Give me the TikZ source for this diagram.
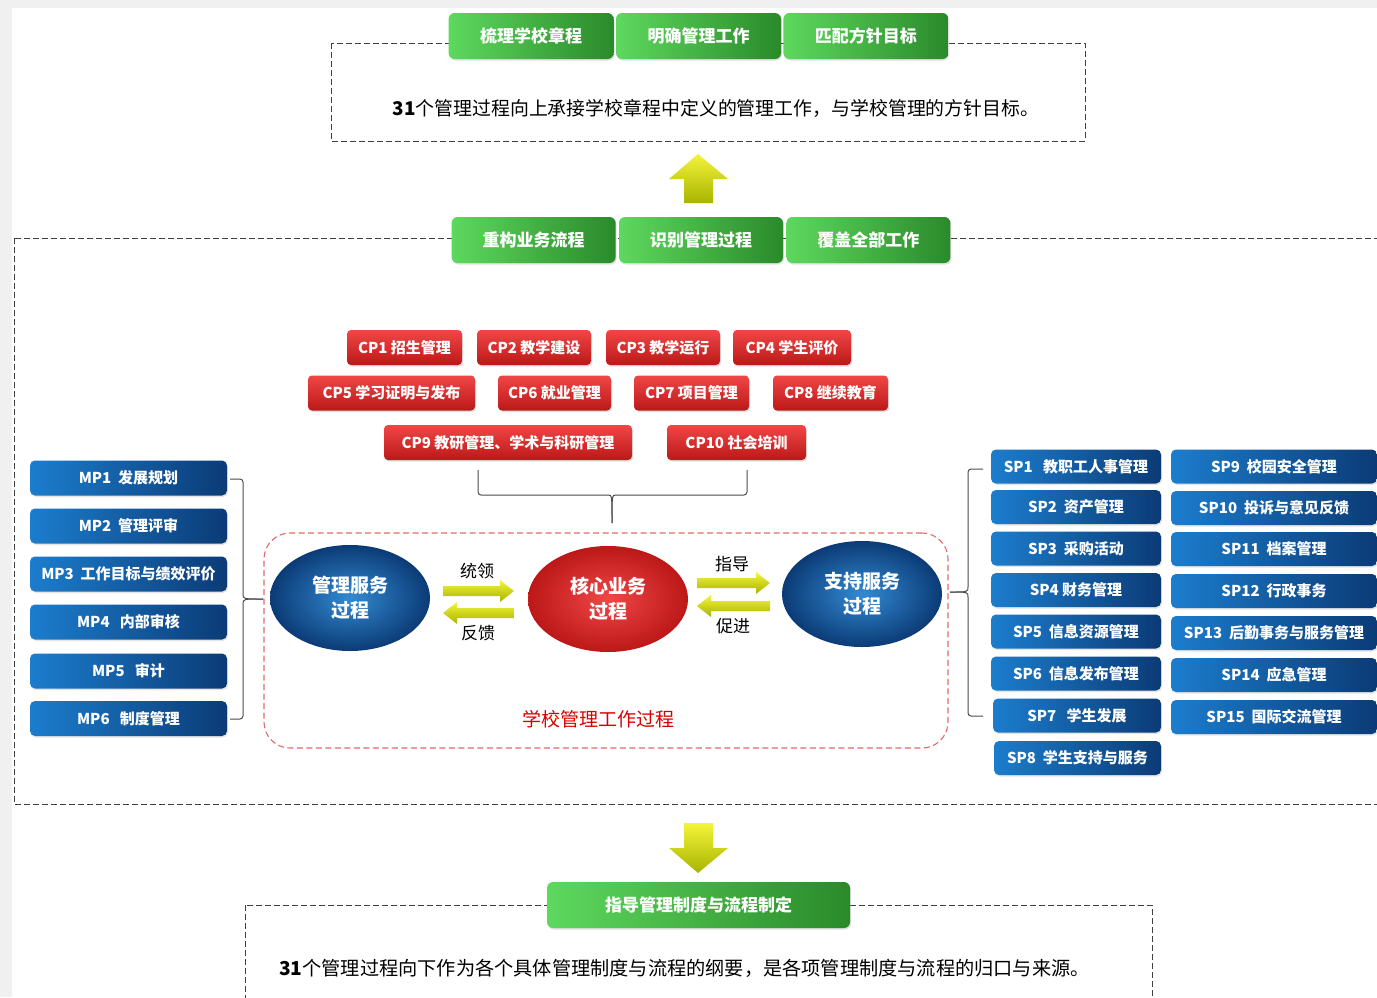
\documentclass[tikz,border=0pt]{standalone}
\usepackage{fontspec}
\setmainfont{Noto Sans CJK SC}
\usetikzlibrary{positioning,shapes.geometric,shadows}
\definecolor{gLight}{HTML}{5ED85E}
\definecolor{gDark}{HTML}{2A8A2A}
\definecolor{bLight}{HTML}{1C7DCD}
\definecolor{bDark}{HTML}{0B3B76}
\definecolor{rTop}{HTML}{F04646}
\definecolor{rBot}{HTML}{BC1818}
\definecolor{yTop}{HTML}{F4F43A}
\definecolor{yBot}{HTML}{A8B400}
\definecolor{dashRed}{HTML}{E26A6A}
\definecolor{bgGray}{HTML}{F0F0F0}
\begin{document}
\begin{tikzpicture}[x=1pt, y=-1pt,
  gbox/.style = {rounded corners=6, left color=gLight, right color=gDark, text=white, minimum height=46, inner sep=0, font=\bfseries\fontsize{17}{17}\selectfont, drop shadow={opacity=0.25, shadow xshift=1pt, shadow yshift=-1.5pt}},
  cbox/.style = {rounded corners=4, top color=rTop, bottom color=rBot, text=white, minimum height=35, inner sep=0, font=\bfseries\fontsize{15}{15}\selectfont, drop shadow={opacity=0.25, shadow xshift=1pt, shadow yshift=-1.5pt}},
  bbox/.style = {rounded corners=5, left color=bLight, right color=bDark, text=white, minimum height=34, inner sep=0, font=\bfseries\fontsize{15}{15}\selectfont, drop shadow={opacity=0.2, shadow xshift=1pt, shadow yshift=-1.5pt}},
  proc/.style = {ellipse, minimum width=160, minimum height=106, inner sep=0, text=white, align=center, font=\bfseries\fontsize{19}{25}\selectfont, shading=radial},
  dashbox/.style = {draw=black!75, line width=0.9, dash pattern=on 6pt off 3pt},
  yarrow/.style = {top color=yTop, bottom color=yBot},
  bracket/.style = {draw=black!70, line width=1, rounded corners=3}
]
\useasboundingbox (0,0) rectangle (1377,997);
\clip (0,0) rectangle (1377,997);
\fill[bgGray] (0,0) rectangle (1377,997);
\fill[white] (12,8) rectangle (1377,997);

% upper frame
\draw[dashbox] (331,43) rectangle (1085,141);
\node[gbox, minimum width=165] (aim2) at (698.5,36) {明确管理工作};
\node[gbox, minimum width=165, left=2pt of aim2] (aim1) {梳理学校章程};
\node[gbox, minimum width=165, right=2pt of aim2] (aim3) {匹配方针目标};
\node[font=\fontsize{18.9}{20}\selectfont] (upText) at (716,108) {{\bfseries 31}个管理过程向上承接学校章程中定义的管理工作，与学校管理的方针目标。};

% up arrow
\shade[yarrow] (698,154) -- (728,179) -- (713,179) -- (713,203) -- (684,203) -- (684,179) -- (669,179) -- cycle;

% middle frame
\draw[dashbox] (14,238) rectangle (1400,804);
\node[gbox, minimum width=164] (flow2) at (701,240) {识别管理过程};
\node[gbox, minimum width=164, left=3pt of flow2] (flow1) {重构业务流程};
\node[gbox, minimum width=164, right=3pt of flow2] (flow3) {覆盖全部工作};

% core processes
\node[cbox, minimum width=115] (cp1) at (404.5,347.5) {CP1 招生管理};
\node[cbox, minimum width=114] (cp2) at (534,347.5) {CP2 教学建设};
\node[cbox, minimum width=114] (cp3) at (663,347.5) {CP3 教学运行};
\node[cbox, minimum width=118] (cp4) at (792,347.5) {CP4 学生评价};
\node[cbox, minimum width=167] (cp5) at (391.5,393) {CP5 学习证明与发布};
\node[cbox, minimum width=113] (cp6) at (554.5,393) {CP6 就业管理};
\node[cbox, minimum width=115] (cp7) at (691.5,393) {CP7 项目管理};
\node[cbox, minimum width=115] (cp8) at (830.5,393) {CP8 继续教育};
\node[cbox, minimum width=248] (cp9) at (508,442.5) {CP9 教研管理、学术与科研管理};
\node[cbox, minimum width=139] (cp10) at (736.5,442.5) {CP10 社会培训};

\coordinate (cpL) at (478,470);
\coordinate (cpR) at (747,470);
\coordinate (cpTip) at (612,523);
\draw[bracket] (cpL) |- (605,495) .. controls (612,495) .. (cpTip);
\draw[bracket] (cpR) |- (619,495) .. controls (612,495) .. (cpTip);

% school work box
\node[draw=dashRed, line width=1.1, dash pattern=on 6pt off 3.5pt, rounded corners=26, minimum width=684, minimum height=215] (workBox) at (606,640.5) {};
\node[text=red!85!black, font=\fontsize{19}{19}\selectfont] (workLbl) at (598,719) {学校管理工作过程};

\node[proc, inner color=bLight!90!white, outer color=bDark] (mgmt) at (350,598) {管理服务\\过程};
\node[proc, inner color=rTop, outer color=rBot] (core) at (608,599) {核心业务\\过程};
\node[proc, inner color=bLight!90!white, outer color=bDark] (supp) at (862,594) {支持服务\\过程};

\shade[yarrow] (443,586) -- (500,586) -- (500,580) -- (514,591) -- (500,602) -- (500,596) -- (443,596) -- cycle;
\shade[yarrow] (514,608) -- (457,608) -- (457,602) -- (443,613) -- (457,624) -- (457,618) -- (514,618) -- cycle;
\shade[yarrow] (697,578) -- (756,578) -- (756,572) -- (770,583) -- (756,594) -- (756,588) -- (697,588) -- cycle;
\shade[yarrow] (770,601) -- (711,601) -- (711,595) -- (697,606) -- (711,617) -- (711,611) -- (770,611) -- cycle;
\node[font=\fontsize{17}{17}\selectfont] (lead) at (477,571) {统领};
\node[font=\fontsize{17}{17}\selectfont] (feed) at (478,633) {反馈};
\node[font=\fontsize{17}{17}\selectfont] (guide) at (732,564) {指导};
\node[font=\fontsize{17}{17}\selectfont] (push) at (733,626) {促进};

% management processes
\node[bbox, minimum width=197, minimum height=35] (mp1) at (128.5,478) {MP1\ \ 发展规划};
\node[bbox, minimum width=197, minimum height=35] (mp2) at (128.5,526) {MP2\ \ 管理评审};
\node[bbox, minimum width=197, minimum height=35] (mp3) at (128.5,574) {MP3\ \ 工作目标与绩效评价};
\node[bbox, minimum width=197, minimum height=35] (mp4) at (128.5,622) {MP4\ \ \ 内部审核};
\node[bbox, minimum width=197, minimum height=35] (mp5) at (128.5,671) {MP5\ \ \ 审计};
\node[bbox, minimum width=197, minimum height=35] (mp6) at (128.5,718.5) {MP6\ \ \ 制度管理};

\coordinate (mpTop) at (230,479);
\coordinate (mpBot) at (230,719);
\coordinate (mpTip) at (263,599);
\draw[bracket] (mpTop) -| (243,591) .. controls (243,599) .. (mpTip);
\draw[bracket] (mpBot) -| (243,607) .. controls (243,599) .. (mpTip);

% support processes
\node[bbox, minimum width=170] (sp1) at (1076,466.5) {SP1\ \ \ 教职工人事管理};
\node[bbox, minimum width=170] (sp2) at (1076,507) {SP2\ \ 资产管理};
\node[bbox, minimum width=170] (sp3) at (1076,548.5) {SP3\ \ 采购活动};
\node[bbox, minimum width=170] (sp4) at (1076,590) {SP4 财务管理};
\node[bbox, minimum width=170] (sp5) at (1076,631.5) {SP5\ \ 信息资源管理};
\node[bbox, minimum width=170] (sp6) at (1076,673.5) {SP6\ \ 信息发布管理};
\node[bbox, minimum width=168] (sp7) at (1077,715.5) {SP7\ \ \ 学生发展};
\node[bbox, minimum width=167] (sp8) at (1077.5,758) {SP8\ \ 学生支持与服务};
\node[bbox, minimum width=206] (sp9) at (1274,466.5) {SP9\ \ 校园安全管理};
\node[bbox, minimum width=206] (sp10) at (1274,508) {SP10\ \ 投诉与意见反馈};
\node[bbox, minimum width=206] (sp11) at (1274,549) {SP11\ \ 档案管理};
\node[bbox, minimum width=206] (sp12) at (1274,591) {SP12\ \ 行政事务};
\node[bbox, minimum width=206] (sp13) at (1274,633) {SP13\ \ 后勤事务与服务管理};
\node[bbox, minimum width=206] (sp14) at (1274,675) {SP14\ \ 应急管理};
\node[bbox, minimum width=206] (sp15) at (1274,717) {SP15\ \ 国际交流管理};

\coordinate (spTop) at (983,469);
\coordinate (spBot) at (983,716);
\coordinate (spTip) at (950,592);
\draw[bracket] (spTop) -| (968,584) .. controls (968,592) .. (spTip);
\draw[bracket] (spBot) -| (968,600) .. controls (968,592) .. (spTip);

% down arrow
\shade[yarrow] (684,823) -- (713,823) -- (713,848) -- (728,848) -- (698,873) -- (669,848) -- (684,848) -- cycle;

% lower frame
\draw[dashbox] (245,905) rectangle (1152,1010);
\node[gbox, minimum width=303] (rule) at (698.5,905) {指导管理制度与流程制定};
\node[font=\fontsize{19.2}{20}\selectfont] (downText) at (684.5,968) {{\bfseries 31}个管理过程向下作为各个具体管理制度与流程的纲要，是各项管理制度与流程的归口与来源。};
\end{tikzpicture}
\end{document}
